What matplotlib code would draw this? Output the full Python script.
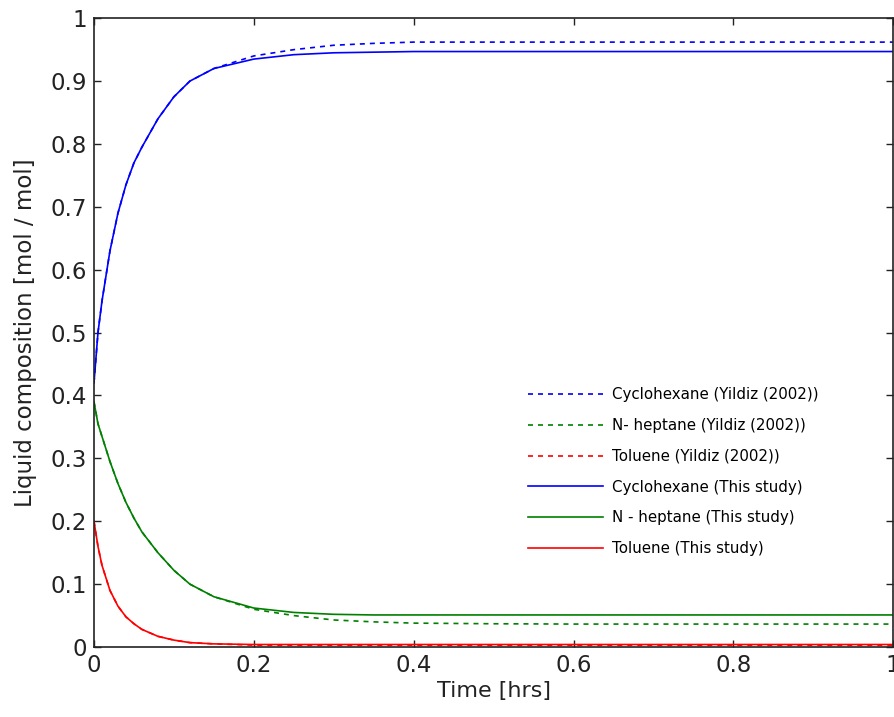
import numpy as np
import matplotlib.pyplot as plt
from matplotlib.ticker import FormatStrFormatter, MultipleLocator

t = [0, 0.005, 0.01, 0.02, 0.03, 0.04, 0.05, 0.06, 0.08, 0.1, 0.12, 0.15,
     0.2, 0.25, 0.3, 0.35, 0.4, 0.5, 0.6, 0.8, 1.0]

# This study (solid)
cyc_this = [0.42, 0.50, 0.55, 0.63, 0.69, 0.735, 0.77, 0.795, 0.84, 0.875, 0.90, 0.92,
            0.935, 0.942, 0.945, 0.946, 0.947, 0.947, 0.947, 0.947, 0.947]
hep_this = [0.39, 0.355, 0.335, 0.295, 0.26, 0.23, 0.205, 0.183, 0.15, 0.122, 0.10, 0.08,
            0.062, 0.055, 0.052, 0.051, 0.051, 0.051, 0.051, 0.051, 0.051]
tol_this = [0.20, 0.16, 0.13, 0.09, 0.065, 0.048, 0.037, 0.028, 0.017, 0.011, 0.007, 0.005,
            0.004, 0.004, 0.004, 0.004, 0.004, 0.004, 0.004, 0.004, 0.004]

# Yildiz (2002) (dashed)
cyc_yil = [0.42, 0.50, 0.55, 0.63, 0.69, 0.735, 0.77, 0.795, 0.84, 0.875, 0.90, 0.92,
           0.94, 0.95, 0.957, 0.96, 0.962, 0.962, 0.962, 0.962, 0.962]
hep_yil = [0.39, 0.355, 0.335, 0.295, 0.26, 0.23, 0.205, 0.183, 0.15, 0.122, 0.10, 0.08,
           0.06, 0.05, 0.043, 0.04, 0.038, 0.037, 0.0365, 0.0365, 0.0365]
tol_yil = [0.20, 0.16, 0.13, 0.09, 0.065, 0.048, 0.037, 0.028, 0.017, 0.011, 0.007, 0.005,
           0.003, 0.003, 0.003, 0.003, 0.003, 0.003, 0.003, 0.003, 0.003]

blue = '#0000ff'
green = '#008000'
red = '#ff0000'
ink = '#222222'

fig = plt.figure(figsize=(8.95, 7.17), dpi=100)
ax = fig.add_axes([0.105, 0.0976, 0.893, 0.877])

ax.plot(t, cyc_yil, '--', color=blue, lw=1.2, dashes=(3, 3), label='Cyclohexane (Yildiz (2002))')
ax.plot(t, hep_yil, '--', color=green, lw=1.2, dashes=(3, 3), label='N- heptane (Yildiz (2002))')
ax.plot(t, tol_yil, '--', color=red, lw=1.2, dashes=(3, 3), label='Toluene (Yildiz (2002))')
ax.plot(t, cyc_this, '-', color=blue, lw=1.2, label='Cyclohexane (This study)')
ax.plot(t, hep_this, '-', color=green, lw=1.2, label='N - heptane (This study)')
ax.plot(t, tol_this, '-', color=red, lw=1.2, label='Toluene (This study)')

ax.set_xlim(0, 1)
ax.set_ylim(0, 1)
ax.xaxis.set_major_locator(MultipleLocator(0.2))
ax.yaxis.set_major_locator(MultipleLocator(0.1))
ax.xaxis.set_major_formatter(FormatStrFormatter('%g'))
ax.yaxis.set_major_formatter(FormatStrFormatter('%g'))
ax.tick_params(direction='in', top=True, right=True, length=5, width=1,
               labelsize=16.5, colors=ink, pad=5)
for s in ax.spines.values():
    s.set_linewidth(1.2)
    s.set_color(ink)

ax.set_xlabel('Time [hrs]', fontsize=16, color=ink, labelpad=3)
ax.set_ylabel('Liquid composition [mol / mol]', fontsize=16.5, color=ink, labelpad=10)

ax.legend(loc='upper left', bbox_to_anchor=(0.543, 0.413), frameon=False,
          fontsize=10.8, handlelength=5.0, handletextpad=0.6, labelspacing=1.05,
          borderpad=0, borderaxespad=0)

fig.savefig('out.png', dpi=100)
